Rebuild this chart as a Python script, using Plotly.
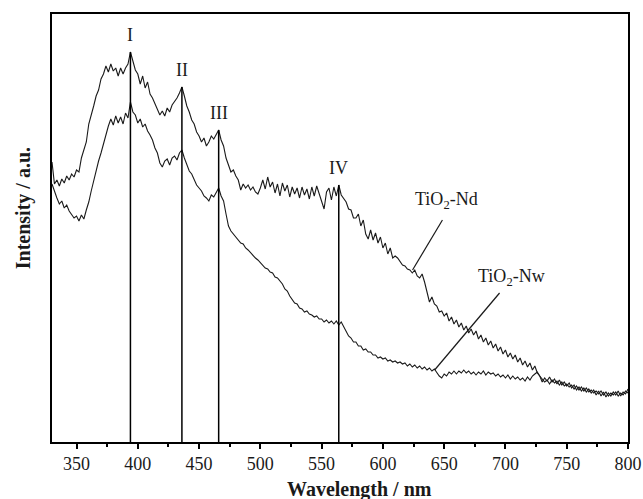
import numpy as np
import plotly.graph_objects as go

# Wavelength grid (nm), 2 nm steps
wavelength = np.arange(330, 801, 2)

# Absorbance / reflectance intensity, arbitrary units
tio2_nd = [
    280, 258, 262, 256, 263, 259, 266, 262, 268, 265,
    272, 270, 284, 292, 300, 318, 326, 336, 346, 352,
    363, 368, 376, 370, 378, 371, 374, 366, 374, 368,
    374, 378, 390, 380, 372, 368, 358, 366, 354, 360,
    348, 344, 338, 332, 327, 331, 326, 334, 330, 337,
    340, 344, 349, 355, 346, 336, 330, 322, 318, 310,
    306, 300, 304, 296, 300, 306, 303, 308, 312, 302,
    296, 284, 276, 270, 272, 266, 262, 252, 258, 254,
    257, 252, 255, 250, 248, 254, 262, 253, 265, 255,
    260, 249, 258, 246, 259, 251, 257, 245, 255, 248,
    254, 244, 255, 247, 253, 243, 255, 246, 256, 249,
    240, 233, 250, 254, 242, 255, 246, 257, 247, 244,
    240, 233, 232, 224, 224, 228, 216, 222, 208, 203,
    212, 202, 209, 199, 205, 194, 199, 188, 194, 184,
    186, 184, 181, 177, 176, 173, 172, 169, 172, 166,
    164, 168, 160, 150, 140, 145, 138, 136, 130, 131,
    126, 129, 121, 125, 118, 122, 115, 119, 112, 116,
    109, 113, 107, 111, 103, 107, 100, 104, 97, 101,
    94, 98, 91, 95, 88, 92, 85, 89, 83, 87,
    80, 84, 77, 81, 75, 79, 72, 76, 69, 66,
    60, 64, 61, 65, 60, 63, 58, 62, 57, 60,
    56, 59, 54, 57, 52, 55, 51, 54, 50, 53,
    49, 52, 47, 51, 46, 50, 45, 49, 46, 50,
    47, 51, 46, 50, 48, 53,
]

tio2_nw = [
    258, 250, 244, 238, 241, 234, 237, 231, 228, 224,
    226, 221, 227, 223, 232, 240, 251, 262, 271, 281,
    289, 299, 309, 316, 323, 317, 326, 319, 325, 318,
    329, 324, 340, 330, 327, 319, 323, 315, 318, 311,
    307, 302, 294, 289, 279, 275, 281, 283, 277, 284,
    286, 282, 289, 292, 284, 278, 271, 268, 262, 257,
    254, 251, 246, 244, 241, 247, 245, 250, 254, 246,
    241, 228, 216, 211, 208, 205, 202, 199, 198, 194,
    192, 189, 187, 184, 182, 179, 177, 174, 173, 170,
    169, 165, 164, 161, 158, 153, 151, 146, 143, 139,
    138, 134, 133, 130, 131, 128, 127, 125, 126, 123,
    123, 120, 122, 119, 121, 118, 121, 117, 120, 115,
    110, 106, 104, 100, 100, 96, 96, 92, 93, 90,
    90, 87, 87, 84, 85, 83, 84, 81, 82, 80,
    81, 79, 80, 78, 79, 76, 78, 75, 77, 74,
    76, 73, 75, 72, 74, 71, 73, 69, 66, 64,
    68, 66, 70, 68, 71, 68, 71, 69, 72, 69,
    71, 68, 70, 67, 70, 68, 71, 67, 70, 68,
    69, 66, 68, 65, 67, 64, 67, 63, 66, 63,
    65, 62, 64, 61, 65, 62, 66, 68, 70, 66,
    63, 60, 62, 58, 62, 59, 61, 57, 60, 56,
    58, 55, 57, 53, 56, 52, 55, 51, 54, 50,
    52, 49, 51, 48, 51, 47, 50, 46, 49, 47,
    50, 46, 49, 47, 51, 49,
]

# Marked bands
peak_wl = [394, 436, 466, 564]
peak_names = ["I", "II", "III", "IV"]

tick_vals = [350, 400, 450, 500, 550, 600, 650, 700, 750, 800]

SERIF = "Liberation Serif, Times New Roman, serif"
INK = "#1a1a1a"

fig = go.Figure()
fig.add_trace(go.Scatter(x=wavelength, y=tio2_nd, mode="lines",
                         line=dict(color=INK, width=1.1), name="TiO2-Nd"))
fig.add_trace(go.Scatter(x=wavelength, y=tio2_nw, mode="lines",
                         line=dict(color=INK, width=1.1), name="TiO2-Nw"))

wl_list = list(wavelength)
for wl, name in zip(peak_wl, peak_names):
    top = tio2_nd[wl_list.index(wl)]
    fig.add_shape(type="line", x0=wl, x1=wl, y0=0, y1=top, xref="x", yref="y",
                  line=dict(color="black", width=1.5))
    fig.add_annotation(x=wl, y=top, text=name, showarrow=False, yanchor="bottom",
                       yshift=5, font=dict(family=SERIF, size=18, color=INK))

# Sample labels with leader lines
fig.add_annotation(x=652, y=242, text="TiO<sub>2</sub>-Nd", showarrow=False,
                   font=dict(family=SERIF, size=18, color=INK))
fig.add_shape(type="line", x0=648.6, y0=222, x1=624.2, y1=172,
              line=dict(color=INK, width=1.2))
fig.add_annotation(x=705, y=165, text="TiO<sub>2</sub>-Nw", showarrow=False,
                   font=dict(family=SERIF, size=18, color=INK))
fig.add_shape(type="line", x0=695.2, y0=149, x1=642.2, y1=72,
              line=dict(color=INK, width=1.2))

# Axis titles
fig.add_annotation(xref="paper", yref="paper", x=0.533, y=-0.11,
                   xanchor="center", yanchor="middle",
                   text="<b>Wavelength / nm</b>", showarrow=False,
                   font=dict(family=SERIF, size=20, color=INK))
fig.add_annotation(xref="paper", yref="paper", x=-0.048, y=0.547,
                   xanchor="center", yanchor="middle",
                   text="<b>Intensity / a.u.</b>", showarrow=False, textangle=-90,
                   font=dict(family=SERIF, size=20, color=INK))

fig.update_layout(
    width=643, height=499, autosize=False,
    margin=dict(l=52, r=15, t=14, b=57, autoexpand=False),
    paper_bgcolor="white", plot_bgcolor="white",
    showlegend=False,
    font=dict(family=SERIF, size=18, color=INK),
)
fig.update_xaxes(
    range=[330, 800], tickvals=tick_vals, ticks="outside", ticklen=5, tickwidth=1.5,
    tickcolor="black", showline=True, linecolor="black", linewidth=1.5, mirror=True,
    showgrid=False, zeroline=False, automargin=False,
    minor=dict(dtick=25, tick0=325, ticks="outside", ticklen=3, tickwidth=1.5,
               tickcolor="black", showgrid=False),
    tickfont=dict(family=SERIF, size=18, color=INK),
)
fig.update_yaxes(
    range=[0, 428], showticklabels=False, ticks="", showline=True, automargin=False,
    linecolor="black", linewidth=1.5, mirror=True, showgrid=False, zeroline=False,
)

fig.write_html("out.html")
